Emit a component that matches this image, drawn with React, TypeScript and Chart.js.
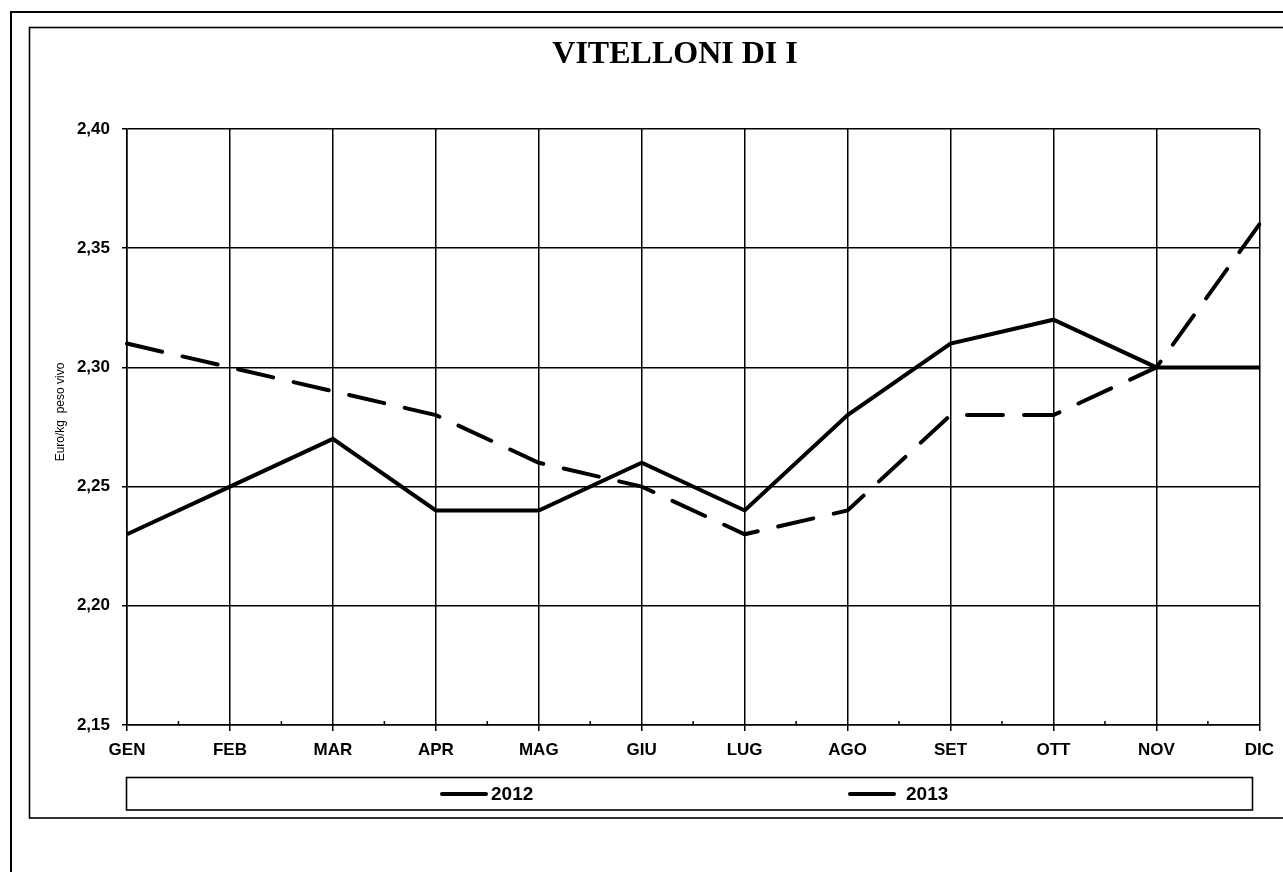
import React, { useEffect, useRef } from 'react';
import { Chart, registerables } from 'chart.js';

Chart.register(...registerables);

const months = ['GEN', 'FEB', 'MAR', 'APR', 'MAG', 'GIU', 'LUG', 'AGO', 'SET', 'OTT', 'NOV', 'DIC'];
const values2012 = [2.23, 2.25, 2.27, 2.24, 2.24, 2.26, 2.24, 2.28, 2.31, 2.32, 2.3, 2.3];
const values2013 = [2.31, 2.3, 2.29, 2.28, 2.26, 2.25, 2.23, 2.24, 2.28, 2.28, 2.3, 2.36];
const seriesLabels = ['2012', '2013'];
const yMin = 2.15;
const yMax = 2.4;
const yStep = 0.05;
const chartTitle = 'VITELLONI DI I';
const yAxisTitle = 'Euro/kg  peso vivo';

const SANS = '"Liberation Sans", Arial, sans-serif';
const SERIF = '"Liberation Serif", "Times New Roman", serif';

const decorPlugin = {
  id: 'decor',
  beforeDraw(chart: any) {
    const ctx = chart.ctx;
    ctx.save();
    ctx.fillStyle = '#ffffff';
    ctx.fillRect(0, 0, chart.width, chart.height);
    ctx.strokeStyle = '#000';
    // outer frame
    ctx.lineWidth = 2;
    ctx.beginPath();
    ctx.moveTo(11, chart.height + 5);
    ctx.lineTo(11, 12);
    ctx.lineTo(chart.width + 5, 12);
    ctx.stroke();
    // inner frame
    ctx.lineWidth = 1.6;
    ctx.strokeRect(29.5, 27.5, chart.width + 20, 790.5);
    ctx.restore();
  },
  afterDraw(chart: any) {
    const ctx = chart.ctx;
    const area = chart.chartArea;
    const xs = chart.scales.x;
    ctx.save();
    // minor ticks
    ctx.strokeStyle = '#000';
    ctx.lineWidth = 1.5;
    for (let i = 0; i < months.length - 1; i++) {
      const x = (xs.getPixelForValue(i) + xs.getPixelForValue(i + 1)) / 2;
      ctx.beginPath();
      ctx.moveTo(x, area.bottom);
      ctx.lineTo(x, area.bottom - 4);
      ctx.stroke();
    }
    // title
    ctx.fillStyle = '#000';
    ctx.font = 'bold 32px ' + SERIF;
    ctx.textAlign = 'center';
    ctx.textBaseline = 'alphabetic';
    ctx.fillText(chartTitle, 675, 63);
    // y axis title
    ctx.save();
    ctx.translate(64, 412);
    ctx.rotate(-Math.PI / 2);
    ctx.font = '12px ' + SANS;
    ctx.textAlign = 'center';
    ctx.fillText(yAxisTitle, 0, 0);
    ctx.restore();
    // legend box
    ctx.lineWidth = 1.6;
    ctx.strokeRect(area.left - 0.5, 777.5, 1253 - area.left, 32.5);
    const legendStarts = [440, 848];
    const textGap = [3, 10];
    chart.data.datasets.forEach((ds: any, i: number) => {
      const x0 = legendStarts[i];
      const y = 794;
      ctx.beginPath();
      ctx.lineWidth = 4;
      ctx.lineCap = 'round';
      ctx.setLineDash([]);
      ctx.moveTo(x0 + 2, y);
      ctx.lineTo(x0 + 46, y);
      ctx.stroke();
      ctx.font = 'bold 19px ' + SANS;
      ctx.textAlign = 'left';
      ctx.textBaseline = 'middle';
      ctx.fillText(ds.label, x0 + 48 + textGap[i], y + 1);
    });
    ctx.restore();
  },
};

export default function App() {
  const ref = useRef<HTMLCanvasElement>(null);
  useEffect(() => {
    if (!ref.current) return;
    const chart = new Chart(ref.current, {
      type: 'line',
      data: {
        labels: months,
        datasets: [
          {
            label: seriesLabels[0],
            data: values2012,
            borderColor: '#000',
            borderWidth: 4,
            pointRadius: 0,
            fill: false,
            tension: 0,
          },
          {
            label: seriesLabels[1],
            data: values2013,
            borderColor: '#000',
            borderWidth: 4,
            borderDash: [36, 21],
            borderCapStyle: 'round',
            pointRadius: 0,
            fill: false,
            tension: 0,
          },
        ],
      },
      options: {
        responsive: false,
        animation: false,
        devicePixelRatio: 1,
        layout: { padding: { top: 129, right: 23, left: 0, bottom: 0 } },
        plugins: {
          legend: { display: false },
          title: { display: false },
          tooltip: { enabled: false },
        },
        scales: {
          x: {
            type: 'category',
            offset: false,
            afterFit: (s: any) => {
              s.height = 147;
            },
            grid: {
              color: '#000',
              lineWidth: 1.5,
              tickLength: 6,
              drawTicks: true,
            },
            border: { color: '#000', width: 1.5 },
            ticks: {
              color: '#000',
              padding: 9,
              maxRotation: 0,
              autoSkip: false,
              font: { family: SANS, size: 17, weight: 'bold' },
            },
          },
          y: {
            min: yMin,
            max: yMax,
            afterFit: (s: any) => {
              s.width = 127;
            },
            grid: {
              color: '#000',
              lineWidth: 1.5,
              tickLength: 5,
            },
            border: { color: '#000', width: 1.5 },
            ticks: {
              stepSize: yStep,
              color: '#000',
              padding: 12,
              font: { family: SANS, size: 17, weight: 'bold' },
              callback: (v: any) => Number(v).toFixed(2).replace('.', ','),
            },
          },
        },
      },
      plugins: [decorPlugin],
    });
    return () => chart.destroy();
  }, []);
  return (
    <div style={{ position: 'fixed', left: 0, top: 0, width: 1283, height: 872, background: '#fff' }}>
      <canvas ref={ref} width={1283} height={872} style={{ width: 1283, height: 872 }} />
    </div>
  );
}
